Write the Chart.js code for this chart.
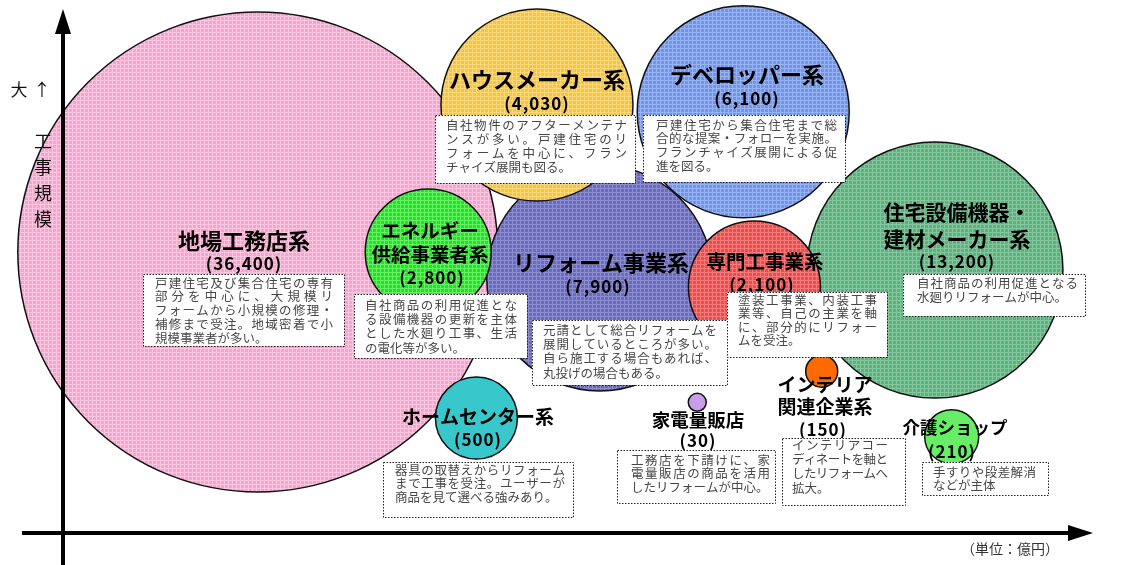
<!DOCTYPE html>
<html><head><meta charset="utf-8">
<script src="https://cdn.jsdelivr.net/npm/chart.js@4.4.1/dist/chart.umd.min.js"></script>
<style>html,body{margin:0;padding:0;background:#fff;}canvas{display:block;}</style>
</head><body>
<canvas id="c" width="1121" height="565"></canvas>
<script>
// ---- data (drawing order: later items are drawn on top) ----
const categories = ['地場工務店系','リフォーム事業系','ハウスメーカー系','デベロッパー系','住宅設備機器・建材メーカー系','専門工事業系','エネルギー供給事業者系','ホームセンター系','家電量販店','インテリア関連企業系','介護ショップ'];
const marketSize = [36400, 7900, 4030, 6100, 13200, 2100, 2800, 500, 30, 150, 210];   // 億円
const posX = [23.0, 53.5, 47.9, 66.3, 83.4, 67.3, 38.2, 42.5, 62.2, 73.3, 84.9];    // arbitrary horizontal placement
const posY = [55.4, 50.8, 81.4, 80.2, 52.2, 49.2, 55.4, 26.0, 28.8, 34.3, 22.7];    // 工事規模 (大↑)
const bubbleR = [240, 113, 96, 106, 128, 66, 63, 41, 9, 16, 27];
const valueLabels = marketSize.map(v => '(' + v.toLocaleString('en-US') + ')');
const descriptions = [
  ['戸建住宅及び集合住宅の専有','部分を中心に、大規模リ','フォームから小規模の修理・','補修まで受注。地域密着で小','規模事業者が多い。'],
  ['元請として総合リフォームを','展開しているところが多い。','自ら施工する場合もあれば、','丸投げの場合もある。'],
  ['自社物件のアフターメンテナ','ンスが多い。戸建住宅のリ','フォームを中心に、フラン','チャイズ展開も図る。'],
  ['戸建住宅から集合住宅まで総','合的な提案・フォローを実施。','フランチャイズ展開による促','進を図る。'],
  ['自社商品の利用促進となる','水廻りリフォームが中心。'],
  ['塗装工事業、内装工事','業等、自己の主業を軸','に、部分的にリフォー','ムを受注。'],
  ['自社商品の利用促進とな','る設備機器の更新を主体','とした水廻り工事、生活','の電化等が多い。'],
  ['器具の取替えからリフォーム','まで工事を受注。ユーザーが','商品を見て選べる強みあり。'],
  ['工務店を下請けに、家','電量販店の商品を活用','したリフォームが中心。'],
  ['インテリアコー','ディネートを軸と','したリフォームへ','拡大。'],
  ['手すりや段差解消','などが主体']
];
const titleLines = [['地場工務店系'],['リフォーム事業系'],['ハウスメーカー系'],['デベロッパー系'],['住宅設備機器・','建材メーカー系'],['専門工事業系'],['エネルギー','供給事業者系'],['ホームセンター系'],['家電量販店'],['インテリア','関連企業系'],['介護ショップ']];

// ---- styles / layout ----
const baseColors = ['#f9a2cd','#6a6abf','#f6c53a','#6f94ee','#5bb27d','#f14a4a','#1ee61e','#38c7ca','#c89de9','#ff6a00','#66ee66'];
const gridLines  = ['#fcc6e1','#8c8cd0','#f9d77a','#97b3f3','#84c69e','#f57a7a','#66f066', null, null, null, null];
function makePattern(base, line){
  if(!line) return base;
  const c = document.createElement('canvas'); c.width = 4; c.height = 4;
  const g = c.getContext('2d');
  g.fillStyle = base; g.fillRect(0,0,4,4);
  g.fillStyle = line; g.fillRect(0,0,4,1); g.fillRect(0,0,1,4);
  return g.createPattern(c, 'repeat');
}
// title layout: [centerX, [line centerYs], valueY, titleFontPx, valueX]
const titleLayout = [
  [244,[241],264,22,244],
  [601,[263],287,22,598],
  [537,[80],104,22,537],
  [747,[75],99,22,747],
  [957,[212,239],262,21,957],
  [765,[262],285,19.5,762],
  [430,[231,255],278,19.5,432],
  [478,[417],440,19,478],
  [698,[420],441,18.5,698],
  [825,[385,407],430,19,823],
  [955,[427],452,17.5,952]
];
// box layout: [left, top, right, bottom, textX0, textX1, firstLineY, lineSpacing]
const boxLayout = [
  [143,274,344,346,155,333,283,13.7],
  [532,320,727,385,543,717,330,14.3],
  [435,115,635,183,446,627,125,14],
  [643,115,845,182,656,837,125,13.7],
  [903,274,1085,316,917,1078,283,14],
  [727,292,887,357,738,877,300,13.5],
  [354,294,527,358,365,517,305,14.3],
  [383,462,573,517,395,565,470,13.5],
  [617,450,775,503,631,770,460,13.5],
  [782,438,905,505,792,888,445,14.3],
  [922,462,1048,495,933,1036,472,13]
];
const JP = '"Noto Sans CJK JP", "Noto Sans", sans-serif';

function drawJustified(ctx, lines, x0, x1, y0, sp){
  const W = x1 - x0;
  lines.forEach((line, i) => {
    const chars = Array.from(line);
    const y = y0 + i*sp;
    const widths = chars.map(ch => ctx.measureText(ch).width);
    const nat = widths.reduce((a,b)=>a+b,0);
    let gap = 0;
    if (i < lines.length-1 && chars.length > 1) gap = (W - nat)/(chars.length-1);
    let x = x0;
    chars.forEach((ch, k) => { ctx.fillText(ch, x, y); x += widths[k] + gap; });
  });
}

const overlay = {
  id: 'overlay',
  afterDatasetsDraw(chart){
    const ctx = chart.ctx;
    ctx.save();
    // axes
    ctx.strokeStyle = '#000'; ctx.fillStyle = '#000'; ctx.lineWidth = 4;
    ctx.beginPath(); ctx.moveTo(63, 565); ctx.lineTo(63, 30); ctx.stroke();
    ctx.beginPath(); ctx.moveTo(63, 9); ctx.lineTo(55, 34); ctx.lineTo(71, 34); ctx.closePath(); ctx.fill();
    ctx.beginPath(); ctx.moveTo(22, 533); ctx.lineTo(1072, 533); ctx.stroke();
    ctx.beginPath(); ctx.moveTo(1093, 533); ctx.lineTo(1068, 525); ctx.lineTo(1068, 541); ctx.closePath(); ctx.fill();
    // axis caption
    ctx.fillStyle = '#111'; ctx.textAlign = 'center'; ctx.textBaseline = 'middle';
    ctx.font = '17px ' + JP;
    ctx.fillText('大', 19, 90); ctx.fillText('↑', 42, 90);
    ctx.font = '18px ' + JP;
    ['工','事','規','模'].forEach((ch,i)=>ctx.fillText(ch, 43, 141 + i*26));
    ctx.font = '14px ' + JP; ctx.fillStyle = '#333';
    ctx.fillText('（単位：億円）', 1010, 549);
    // titles
    ctx.fillStyle = '#000';
    titleLines.forEach((tl, i) => {
      const L = titleLayout[i];
      ctx.letterSpacing = '0px';
      ctx.font = 'bold ' + L[3] + 'px ' + JP;
      tl.forEach((t, k) => ctx.fillText(t, L[0], L[1][k]));
      ctx.font = 'bold 17px ' + JP;
      ctx.letterSpacing = '1px';
      ctx.fillText(valueLabels[i], L[4], L[2]);
      ctx.letterSpacing = '0px';
    });
    // description boxes
    descriptions.forEach((d, i) => {
      const B = boxLayout[i];
      ctx.fillStyle = '#fff';
      ctx.fillRect(B[0], B[1], B[2]-B[0], B[3]-B[1]);
      ctx.setLineDash([1.5,1.5]); ctx.lineWidth = 1; ctx.strokeStyle = '#222';
      ctx.strokeRect(B[0]+0.5, B[1]+0.5, B[2]-B[0], B[3]-B[1]);
      ctx.setLineDash([]);
      ctx.fillStyle = '#474747'; ctx.textAlign = 'left'; ctx.textBaseline = 'middle';
      ctx.font = '12.5px ' + JP;
      drawJustified(ctx, d, B[4], B[5], B[6], B[7]);
      ctx.textAlign = 'center';
    });
    ctx.restore();
  }
};

new Chart(document.getElementById('c'), {
  type: 'bubble',
  data: {
    datasets: [{
      label: '市場規模',
      data: categories.map((c, i) => ({ x: posX[i], y: posY[i], r: bubbleR[i], name: c, v: marketSize[i] })),
      backgroundColor: baseColors.map((b, i) => makePattern(b, gridLines[i])),
      borderColor: '#111',
      borderWidth: 1.5,
      clip: false
    }]
  },
  options: {
    responsive: false,
    devicePixelRatio: 1,
    animation: false,
    events: [],
    layout: { padding: 0, autoPadding: false },
    plugins: { legend: { display: false }, tooltip: { enabled: false } },
    scales: {
      x: { type: 'linear', min: 0, max: 100, display: false },
      y: { type: 'linear', min: 0, max: 100, display: false }
    }
  },
  plugins: [overlay]
});
</script>
</body></html>
